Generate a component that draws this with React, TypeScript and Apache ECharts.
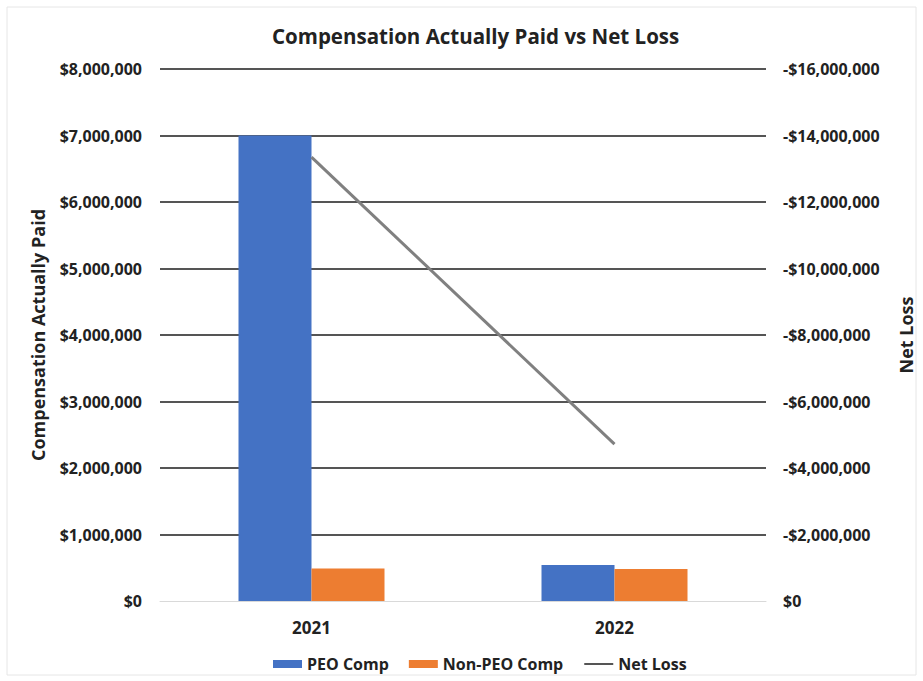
import React, { useEffect, useRef } from "react";
import * as echarts from "echarts";

const categories = ["2021", "2022"];
const peoComp = [7000000, 540000];
const nonPeoComp = [490000, 480000];
const netLoss = [-13350000, -4720000];

const FONT = "'Open Sans', sans-serif";
const TEXT = "#222222";

function fmtMoney(v: number): string {
  const a = Math.abs(v);
  const s = "$" + a.toLocaleString("en-US");
  return v < 0 ? "-" + s : s;
}

export default function App() {
  const ref = useRef<HTMLDivElement>(null);
  useEffect(() => {
    document.body.style.margin = "0";
    const chart = echarts.init(ref.current!, null, { renderer: "svg" });
    chart.setOption({
      animation: false,
      backgroundColor: "#ffffff",
      textStyle: { fontFamily: FONT },
      title: {
        text: "Compensation Actually Paid vs Net Loss",
        left: 267,
        top: 20,
        textStyle: { fontFamily: FONT, fontWeight: "bold", fontSize: 20.5, color: TEXT },
      },
      graphic: [
        {
          type: "rect",
          shape: { x: 7, y: 7, width: 909, height: 668 },
          style: { fill: "none", stroke: "#e6e6e6", lineWidth: 1 },
          silent: true,
        },
      ],
      legend: {
        top: 651,
        left: 268,
        itemWidth: 29,
        itemHeight: 8,
        itemGap: 20,
        textStyle: { fontFamily: FONT, fontWeight: "bold", fontSize: 16, color: TEXT },
        data: [
          { name: "PEO Comp", icon: "rect" },
          { name: "Non-PEO Comp", icon: "rect" },
          { name: "Net Loss", itemStyle: { opacity: 0 }, lineStyle: { width: 2, color: "#555555" } },
        ],
      },
      grid: { left: 160, right: 151, top: 69, bottom: 80 },
      xAxis: {
        type: "category",
        data: categories,
        axisTick: { show: false },
        axisLine: { lineStyle: { color: "#d9d9d9", width: 1 } },
        axisLabel: { fontFamily: FONT, fontWeight: "bold", fontSize: 17, color: TEXT, margin: 18 },
      },
      yAxis: [
        {
          type: "value",
          min: 0,
          max: 8000000,
          interval: 1000000,
          name: "Compensation Actually Paid",
          nameLocation: "middle",
          nameGap: 113,
          nameTextStyle: { fontFamily: FONT, fontWeight: "bold", fontSize: 18, color: TEXT },
          axisLabel: {
            fontFamily: FONT,
            fontWeight: "bold",
            fontSize: 16,
            color: TEXT,
            margin: 18,
            formatter: (v: number) => fmtMoney(v),
          },
          axisLine: { show: false },
          axisTick: { show: false },
          splitLine: {
            lineStyle: {
              color: ["transparent", "#555555", "#555555", "#555555", "#555555", "#555555", "#555555", "#555555", "#555555"],
              width: 2,
            },
          },
        },
        {
          type: "value",
          inverse: true,
          min: -16000000,
          max: 0,
          interval: 2000000,
          name: "Net Loss",
          nameLocation: "middle",
          nameGap: 131,
          nameTextStyle: { fontFamily: FONT, fontWeight: "bold", fontSize: 18, color: TEXT },
          axisLabel: {
            fontFamily: FONT,
            fontWeight: "bold",
            fontSize: 16,
            color: TEXT,
            margin: 17,
            formatter: (v: number) => fmtMoney(v),
          },
          axisLine: { show: false },
          axisTick: { show: false },
          splitLine: { show: false },
        },
      ],
      series: [
        {
          name: "PEO Comp",
          type: "bar",
          data: peoComp,
          barWidth: 73,
          barGap: "0%",
          itemStyle: { color: "#4472C4" },
        },
        {
          name: "Non-PEO Comp",
          type: "bar",
          data: nonPeoComp,
          barWidth: 73,
          barGap: "0%",
          itemStyle: { color: "#ED7D31" },
        },
        {
          name: "Net Loss",
          type: "line",
          yAxisIndex: 1,
          data: netLoss,
          symbol: "none",
          lineStyle: { color: "#808080", width: 3 },
          itemStyle: { color: "#808080" },
        },
      ],
    });
    return () => chart.dispose();
  }, []);
  return <div ref={ref} style={{ width: 923, height: 681 }} />;
}
